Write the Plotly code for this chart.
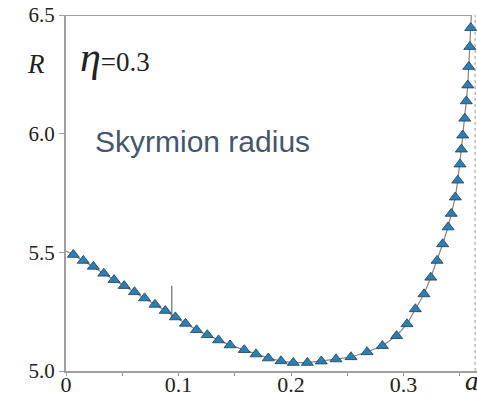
import plotly.graph_objects as go

# Skyrmion radius R versus a (eta = 0.3)
a_vals = [0.0, 0.0065, 0.0154, 0.0243, 0.0336, 0.0427, 0.0517, 0.0609, 0.0698, 0.0791,
          0.0882, 0.0972, 0.1062, 0.1160, 0.1256, 0.1356, 0.1458, 0.1584, 0.1689, 0.1798,
          0.1911, 0.2020, 0.2145, 0.2269, 0.2400, 0.2533, 0.2676, 0.2812, 0.2938, 0.3031,
          0.3105, 0.3182, 0.3242, 0.3298, 0.3348, 0.3396, 0.3424, 0.3460, 0.3482, 0.3502,
          0.3514, 0.3526, 0.3544, 0.3558, 0.3571, 0.3580, 0.3589, 0.3597, 0.3606]
R_vals = [5.505, 5.490, 5.465, 5.440, 5.411, 5.384, 5.359, 5.333, 5.307, 5.280,
          5.254, 5.227, 5.200, 5.173, 5.152, 5.130, 5.109, 5.089, 5.071, 5.054,
          5.042, 5.035, 5.035, 5.041, 5.050, 5.059, 5.080, 5.106, 5.148, 5.198,
          5.261, 5.324, 5.394, 5.465, 5.535, 5.606, 5.663, 5.732, 5.803, 5.871,
          5.934, 5.993, 6.064, 6.137, 6.204, 6.282, 6.366, 6.446, 6.530]
# first and last entries are line-only (no marker)
marker_shown = [False] + [True] * (len(a_vals) - 2) + [False]

y_ticks = [5.0, 5.5, 6.0, 6.5]
x_ticks = [0, 0.1, 0.2, 0.3]
x_tick_text = ["0", "0.1", "0.2", "0.3"]

# small vertical indicator and boundary line
ind_a = 0.094
ind_R = [5.228, 5.359]
edge_a = 0.3636
frame_a = 0.3609

x_range = [0, 0.3653]
y_range = [5.0, 6.5]

fig = go.Figure()

fig.add_trace(go.Scatter(
    x=a_vals, y=R_vals, mode="lines",
    line=dict(color="#8c8276", width=1.2),
    hoverinfo="skip", showlegend=False,
))
fig.add_trace(go.Scatter(
    x=[a for a, s in zip(a_vals, marker_shown) if s],
    y=[r for r, s in zip(R_vals, marker_shown) if s],
    mode="markers",
    marker=dict(symbol="triangle-up", size=10.5, color="#2a7fb3",
                line=dict(color="#1d3f5e", width=0.8)),
    showlegend=False, cliponaxis=True,
))

# indicator line
fig.add_shape(type="line", x0=ind_a, x1=ind_a, y0=ind_R[0], y1=ind_R[1],
              xref="x", yref="y", line=dict(color="#8a8a8a", width=1.5), layer="below")
# dotted boundary
fig.add_shape(type="line", x0=edge_a, x1=edge_a, y0=y_range[0], y1=y_range[1],
              xref="x", yref="y", line=dict(color="#9a9a9a", width=1, dash="dot"))
# top frame
fig.add_shape(type="line", x0=0, x1=frame_a, y0=y_range[1], y1=y_range[1],
              xref="x", yref="y", line=dict(color="#a0a0a0", width=2))

serif = "Liberation Serif"

fig.add_annotation(text="<i>R</i>", xref="paper", yref="paper", x=0, y=0,
                   showarrow=False, font=dict(family=serif, size=27, color="#222"))
fig.add_annotation(text='<i><span style="font-size:42px">η</span></i>=0.3',
                   xref="paper", yref="paper", x=0, y=0, showarrow=False,
                   font=dict(family=serif, size=27, color="#222"))
fig.add_annotation(text="Skyrmion radius", xref="paper", yref="paper", x=0, y=0,
                   showarrow=False, font=dict(family="Liberation Sans", size=30, color="#45566e"))
fig.add_annotation(text="<i>a</i>", xref="paper", yref="paper", x=0, y=0,
                   showarrow=False, font=dict(family=serif, size=27, color="#222"))

W, H = 477, 397
L, Rm, T, B = 66, 0, 15, 26
pw, ph = W - L - Rm, H - T - B


def px2paper(px, py):
    return (px - L) / pw, 1 - (py - T) / ph


anns = list(fig.layout.annotations)
for ann, (px, py, xa, ya) in zip(anns, [(36, 64, "center", "middle"),
                                         (78, 57, "left", "middle"),
                                         (93, 141, "left", "middle"),
                                         (463, 381, "left", "middle")]):
    xp, yp = px2paper(px, py)
    ann.update(x=xp, y=yp, xanchor=xa, yanchor=ya)
fig.layout.annotations = anns

fig.update_layout(
    width=W, height=H,
    margin=dict(l=L, r=Rm, t=T, b=B, pad=0),
    plot_bgcolor="white", paper_bgcolor="white",
    xaxis=dict(range=x_range, tickvals=x_ticks, ticktext=x_tick_text,
               automargin=False,
               showgrid=False, zeroline=False, showline=True,
               linecolor="#a0a0a0", linewidth=2,
               ticks="outside", ticklen=3, tickcolor="#a0a0a0",
               ticklabelstandoff=-10,
               minor=dict(dtick=0.05, tick0=0, ticks="outside", ticklen=3, tickcolor="#a0a0a0"),
               tickfont=dict(family=serif, size=22, color="#222")),
    yaxis=dict(range=y_range, tickvals=y_ticks, tickformat=".1f",
               automargin=False,
               showgrid=False, zeroline=False, showline=True,
               linecolor="#a0a0a0", linewidth=2,
               ticks="outside", ticklen=5, tickcolor="#a0a0a0",
               tickfont=dict(family=serif, size=21, color="#222")),
)

fig.write_html("out.html", config={"displayModeBar": False},
               post_script="document.body.style.margin='0';")
